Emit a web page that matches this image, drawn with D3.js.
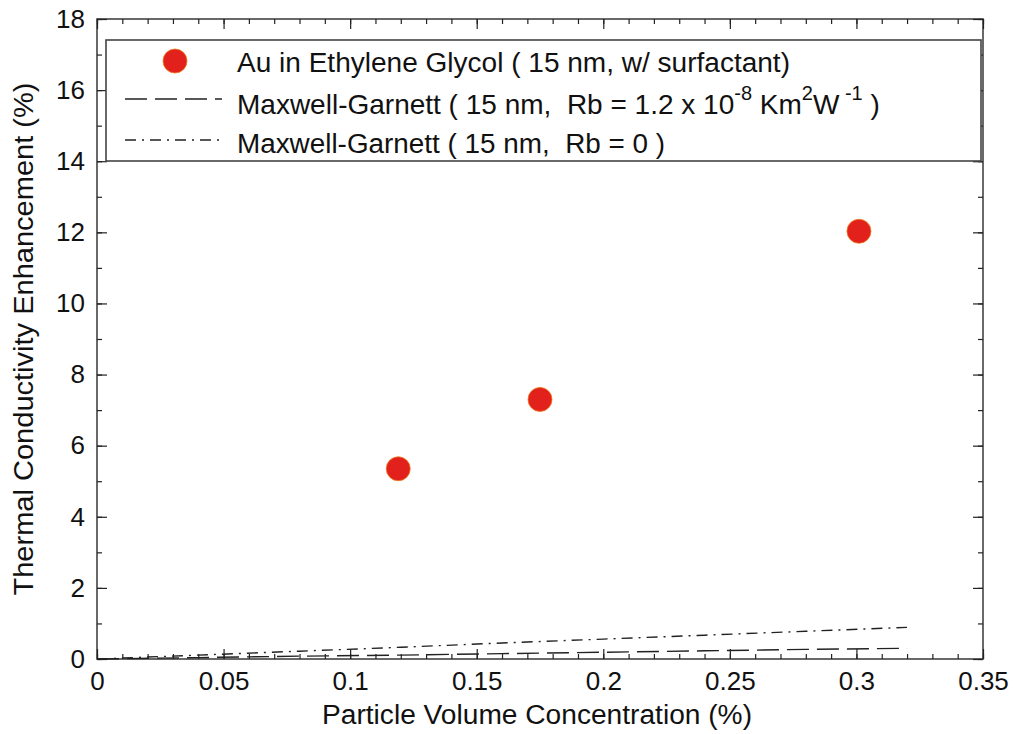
<!DOCTYPE html>
<html>
<head>
<meta charset="utf-8">
<script src="https://cdn.jsdelivr.net/npm/d3@7"></script>
<style>
  html, body { margin: 0; padding: 0; background: #fff; }
  svg text { font-family: "Liberation Sans", Arial, Helvetica, sans-serif; white-space: pre; }
</style>
</head>
<body>
<svg id="chart" width="1013" height="734"></svg>
<script>
// Measured thermal conductivity enhancement of Au / ethylene glycol nanofluid
const concentration = [0.119, 0.175, 0.301];         // particle volume concentration (%)
const enhancement   = [5.35, 7.3, 12.03];            // enhancement (%)

// Maxwell-Garnett predictions (15 nm particles)
const mgX      = [0, 0.04, 0.08, 0.12, 0.16, 0.20, 0.24, 0.28, 0.32];
const mgRb0    = [0, 0.11, 0.22, 0.33, 0.45, 0.56, 0.67, 0.78, 0.89];   // Rb = 0
const mgRbFin  = [0, 0.04, 0.08, 0.11, 0.15, 0.19, 0.23, 0.27, 0.30];   // Rb = 1.2e-8 K m^2 / W

const xTicks = [0, 0.05, 0.1, 0.15, 0.2, 0.25, 0.3, 0.35];
const xTickLabels = ["0", "0.05", "0.1", "0.15", "0.2", "0.25", "0.3", "0.35"];
const yTicks = [0, 2, 4, 6, 8, 10, 12, 14, 16, 18];
const xMinor = d3.range(0, 36).map(i => i / 100);
const yMinor = d3.range(0, 19);

const svg = d3.select("#chart");
const plotL = 97, plotR = 983, plotT = 19, plotB = 659;

const x = d3.scaleLinear().domain([0, 0.35]).range([plotL, plotR]);
const y = d3.scaleLinear().domain([0, 18]).range([plotB, plotT]);

const axisColor = "#222";

// frame
svg.append("rect")
  .attr("x", plotL).attr("y", plotT)
  .attr("width", plotR - plotL).attr("height", plotB - plotT)
  .attr("fill", "none").attr("stroke", "#444").attr("stroke-width", 1.6);

// inward ticks on all four sides
function tickAxis(gen, scale, values, size, tr) {
  const g = svg.append("g").attr("transform", tr)
    .call(gen(scale).tickValues(values).tickSize(-size).tickFormat(""));
  g.select(".domain").remove();
  g.selectAll(".tick line").attr("stroke", axisColor).attr("stroke-width", 1.2);
  return g;
}
tickAxis(d3.axisBottom, x, xMinor, 5, `translate(0,${plotB})`);
tickAxis(d3.axisBottom, x, xTicks, 10, `translate(0,${plotB})`);
tickAxis(d3.axisTop, x, xMinor, 5, `translate(0,${plotT})`);
tickAxis(d3.axisTop, x, xTicks, 10, `translate(0,${plotT})`);
tickAxis(d3.axisLeft, y, yMinor, 5, `translate(${plotL},0)`);
tickAxis(d3.axisLeft, y, yTicks, 10, `translate(${plotL},0)`);
tickAxis(d3.axisRight, y, yMinor, 5, `translate(${plotR},0)`);
tickAxis(d3.axisRight, y, yTicks, 10, `translate(${plotR},0)`);

// tick labels
const xl = svg.append("g").attr("transform", `translate(0,${plotB})`)
  .call(d3.axisBottom(x).tickValues(xTicks).tickSize(0).tickPadding(13)
        .tickFormat((d, i) => xTickLabels[i]));
xl.select(".domain").remove();
xl.selectAll("text").attr("font-size", 26).attr("fill", "#111")
  .attr("font-family", "Liberation Sans, Arial, sans-serif");

const yl = svg.append("g").attr("transform", `translate(${plotL},0)`)
  .call(d3.axisLeft(y).tickValues(yTicks).tickSize(0).tickPadding(12));
yl.select(".domain").remove();
yl.selectAll("text").attr("font-size", 26).attr("fill", "#111")
  .attr("font-family", "Liberation Sans, Arial, sans-serif");

// axis titles
svg.append("text")
  .attr("x", 537).attr("y", 724)
  .attr("text-anchor", "middle").attr("font-size", 27).attr("fill", "#111")
  .attr("textLength", 430).attr("lengthAdjust", "spacingAndGlyphs")
  .text("Particle Volume Concentration (%)");
svg.append("text")
  .attr("transform", `translate(33,339) rotate(-90)`)
  .attr("text-anchor", "middle").attr("font-size", 27).attr("fill", "#111")
  .attr("textLength", 513).attr("lengthAdjust", "spacingAndGlyphs")
  .text("Thermal Conductivity Enhancement (%)");

// model curves
const line = d3.line().x(d => x(d[0])).y(d => y(d[1]));
svg.append("path")
  .datum(d3.zip(mgX, mgRbFin))
  .attr("d", line).attr("fill", "none").attr("stroke", "#222")
  .attr("stroke-width", 1.4).attr("stroke-dasharray", "22,8");
svg.append("path")
  .datum(d3.zip(mgX, mgRb0))
  .attr("d", line).attr("fill", "none").attr("stroke", "#222")
  .attr("stroke-width", 1.4).attr("stroke-dasharray", "11,6,2,6");

// measured points
svg.append("g").selectAll("circle")
  .data(d3.zip(concentration, enhancement))
  .join("circle")
  .attr("cx", d => x(d[0])).attr("cy", d => y(d[1]))
  .attr("r", 12)
  .attr("fill", "#e2201c").attr("stroke", "#f07a1a").attr("stroke-width", 0.8);

// legend
const lg = svg.append("g");
lg.append("rect")
  .attr("x", 106).attr("y", 40).attr("width", 875).attr("height", 121)
  .attr("fill", "#fff").attr("stroke", "#444").attr("stroke-width", 1.6);

lg.append("circle").attr("cx", 175).attr("cy", 61).attr("r", 12)
  .attr("fill", "#e2201c").attr("stroke", "#f07a1a").attr("stroke-width", 0.8);
lg.append("line").attr("x1", 125).attr("x2", 222).attr("y1", 99).attr("y2", 99)
  .attr("stroke", "#222").attr("stroke-width", 1.4).attr("stroke-dasharray", "22,8");
lg.append("line").attr("x1", 125).attr("x2", 222).attr("y1", 140).attr("y2", 140)
  .attr("stroke", "#222").attr("stroke-width", 1.4).attr("stroke-dasharray", "11,6,2,6");

const fs = 27;
lg.append("text").attr("x", 237).attr("y", 72).attr("font-size", fs).attr("fill", "#111")
  .attr("textLength", 553).attr("lengthAdjust", "spacingAndGlyphs")
  .text("Au in Ethylene Glycol ( 15 nm, w/ surfactant)");

const t2 = lg.append("text").attr("x", 237).attr("y", 114).attr("font-size", 28).attr("fill", "#111");
t2.append("tspan").text("Maxwell-Garnett ( 15 nm,  Rb = 1.2 x 10");
t2.append("tspan").attr("dy", -14).attr("font-size", 20).text("-8");
t2.append("tspan").attr("dy", 14).text(" Km");
t2.append("tspan").attr("dy", -14).attr("font-size", 20).text("2");
t2.append("tspan").attr("dy", 14).text("W");
t2.append("tspan").attr("dy", -14).attr("font-size", 20).text(" -1");
t2.append("tspan").attr("dy", 14).text(" )");

lg.append("text").attr("x", 237).attr("y", 153).attr("font-size", fs).attr("fill", "#111")
  .attr("textLength", 428).attr("lengthAdjust", "spacingAndGlyphs")
  .text("Maxwell-Garnett ( 15 nm,  Rb = 0 )");
</script>
</body>
</html>
